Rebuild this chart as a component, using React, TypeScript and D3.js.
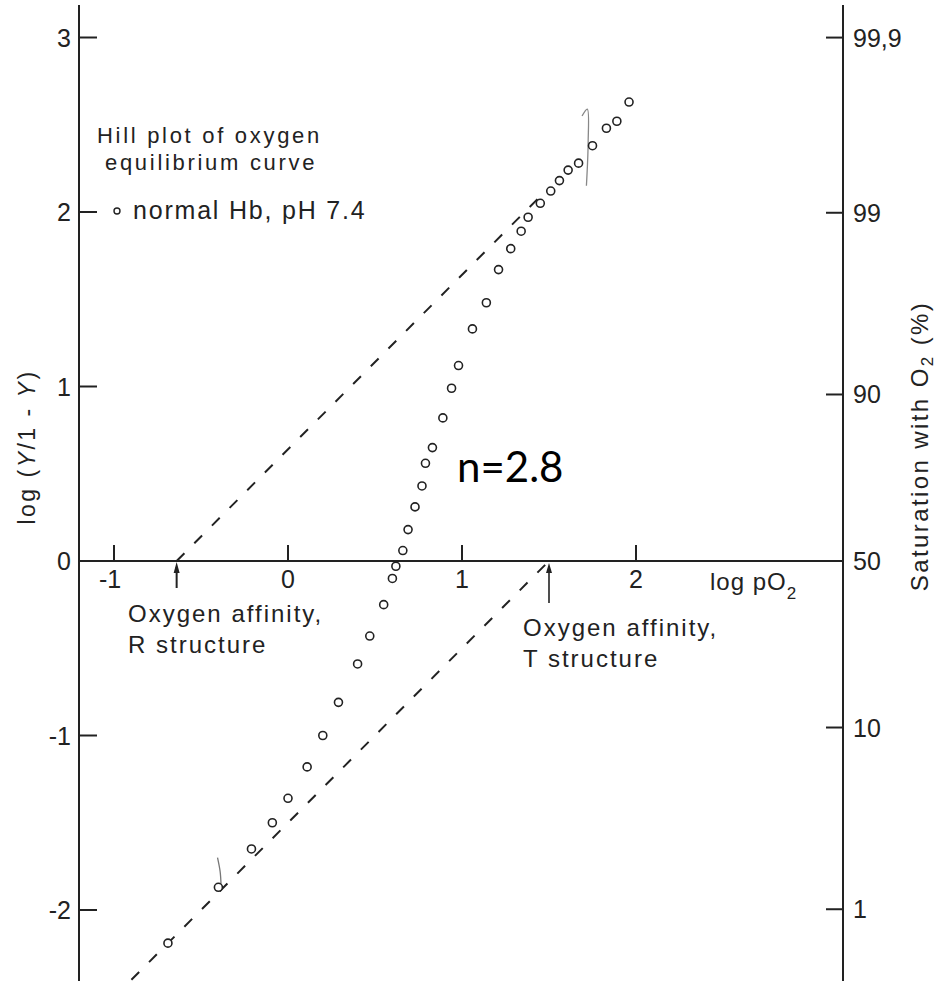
import React from "react";
import * as d3 from "d3";

const W = 942;
const H = 981;

// data points (log pO2 vs log(Y/1-Y))
const logPO2 = [
  -0.69, -0.4, -0.21, -0.09, 0.0, 0.11, 0.2, 0.29, 0.4, 0.47, 0.55, 0.6, 0.62,
  0.66, 0.69, 0.73, 0.77, 0.79, 0.83, 0.89, 0.94, 0.98, 1.06, 1.14, 1.21, 1.28,
  1.34, 1.38, 1.45, 1.51, 1.56, 1.61, 1.67, 1.75, 1.83, 1.89, 1.96,
];
const logY = [
  -2.19, -1.87, -1.65, -1.5, -1.36, -1.18, -1.0, -0.81, -0.59, -0.43, -0.25,
  -0.1, -0.03, 0.06, 0.18, 0.31, 0.43, 0.56, 0.65, 0.82, 0.99, 1.12, 1.33,
  1.48, 1.67, 1.79, 1.89, 1.97, 2.05, 2.12, 2.18, 2.24, 2.28, 2.38, 2.48, 2.52,
  2.63,
];

// asymptote lines (slope 1)
const rLine: [number, number][] = [[-0.64, 0], [1.45, 2.09]];
const tLine: [number, number][] = [[-0.9, -2.4], [1.5, 0]];

// hand drawn marks at the ends of the curve
const upperMark: [number, number][] = [[1.69, 2.55], [1.72, 2.59], [1.725, 2.4], [1.715, 2.15]];
const lowerMark: [number, number][] = [[-0.405, -1.7], [-0.39, -1.78], [-0.385, -1.85]];

const xTicks = [-1, 0, 1, 2];
const yTicks = [3, 2, 1, 0, -1, -2];
const satTicks = [1, 10, 50, 90, 99, 99.9];
const satLabels = ["1", "10", "50", "90", "99", "99,9"];

const rAffinity = -0.64;
const tAffinity = 1.5;

const font = "'Liberation Sans', Arial, sans-serif";
const ink = "#222";

export default function App() {
  const x = d3.scaleLinear().domain([0, 2]).range([288, 636]);
  const y = d3.scaleLinear().domain([0, 3]).range([561, 37.5]);
  const logit = (p: number) => Math.log10(p / (100 - p));

  const left = 79;
  const right = 843;
  const y0 = y(0);

  const line = d3.line<[number, number]>().x(d => x(d[0])).y(d => y(d[1]));
  const curve = d3
    .line<[number, number]>()
    .x(d => x(d[0]))
    .y(d => y(d[1]))
    .curve(d3.curveCatmullRom);

  const xr = x(rAffinity);
  const xt = x(tAffinity);

  return (
    <svg
      width={W}
      height={H}
      style={{ position: "absolute", left: 0, top: 0, background: "#fff" }}
      fontFamily={font}
    >
      <rect width={W} height={H} fill="#fff" />

      {/* axes */}
      <line x1={left} x2={left} y1={5} y2={H} stroke={ink} strokeWidth={2} />
      <line x1={right} x2={right} y1={5} y2={H} stroke={ink} strokeWidth={2} />
      <line x1={left} x2={right} y1={y0} y2={y0} stroke={ink} strokeWidth={2} />

      {yTicks.map(t => (
        <g key={"y" + t}>
          <line x1={left} x2={left + 18} y1={y(t)} y2={y(t)} stroke={ink} strokeWidth={2} />
          <text x={71} y={y(t)} dy="0.36em" textAnchor="end" fontSize={25} fill={ink}>
            {t < 0 ? "-" + Math.abs(t) : t}
          </text>
        </g>
      ))}

      {xTicks.map(t => (
        <g key={"x" + t}>
          <line x1={x(t)} x2={x(t)} y1={y0 - 16} y2={y0} stroke={ink} strokeWidth={2} />
          <text x={x(t) - (t < 0 ? 4 : 0)} y={588} textAnchor="middle" fontSize={25} fill={ink}>
            {t < 0 ? "-" + Math.abs(t) : t}
          </text>
        </g>
      ))}

      {satTicks.map((p, i) => (
        <g key={"s" + p}>
          <line x1={right - 17} x2={right} y1={y(logit(p))} y2={y(logit(p))} stroke={ink} strokeWidth={2} />
          <text x={853} y={y(logit(p))} dy="0.36em" fontSize={25} fill={ink}>
            {satLabels[i]}
          </text>
        </g>
      ))}

      {/* axis titles */}
      <text x={710} y={590} fontSize={24} fill={ink} letterSpacing={1}>
        log pO<tspan fontSize={17} dy={9}>2</tspan>
      </text>
      <text
        transform={`translate(35,447) rotate(-90)`}
        textAnchor="middle"
        fontSize={23}
        fill={ink}
        letterSpacing={2.5}
      >
        log (<tspan fontStyle="italic">Y</tspan>/1 - <tspan fontStyle="italic">Y</tspan>)
      </text>
      <text
        transform={`translate(928,446) rotate(-90)`}
        textAnchor="middle"
        fontSize={24}
        fill={ink}
        letterSpacing={2.4}
      >
        Saturation with O<tspan fontSize={17} dy={5}>2</tspan>
        <tspan dy={-5}> (%)</tspan>
      </text>

      {/* dashed asymptotes */}
      <path d={line(rLine) ?? ""} fill="none" stroke={ink} strokeWidth={2} strokeDasharray="11 14" />
      <path d={line(tLine) ?? ""} fill="none" stroke={ink} strokeWidth={2} strokeDasharray="11 14" />

      {/* hand marks */}
      <path d={curve(upperMark) ?? ""} fill="none" stroke="#888" strokeWidth={1.3} />
      <path d={curve(lowerMark) ?? ""} fill="none" stroke="#777" strokeWidth={1.3} />

      {/* data */}
      {logPO2.map((v, i) => (
        <circle key={i} cx={x(v)} cy={y(logY[i])} r={4} fill="#fff" stroke={ink} strokeWidth={1.6} />
      ))}

      {/* affinity arrows */}
      <line x1={xr} x2={xr} y1={y0 + 6} y2={y0 + 27} stroke={ink} strokeWidth={2} />
      <path d={`M${xr},${y0 + 1} L${xr - 3},${y0 + 12} L${xr + 3},${y0 + 12} Z`} fill={ink} />
      <line x1={xt} x2={xt} y1={y0 + 6} y2={y0 + 42} stroke={ink} strokeWidth={1.6} />
      <path d={`M${xt},${y0 + 2} L${xt - 3},${y0 + 12} L${xt + 3},${y0 + 12} Z`} fill={ink} />

      {/* annotations */}
      <g fontSize={24} fill={ink} letterSpacing={2}>
        <text x={128} y={622}>Oxygen affinity,</text>
        <text x={128} y={653}>R structure</text>
        <text x={523} y={636}>Oxygen affinity,</text>
        <text x={523} y={667}>T structure</text>
      </g>
      <g fill={ink}>
        <text x={97} y={143} fontSize={22} letterSpacing={2.7}>Hill plot of oxygen</text>
        <text x={105} y={170} fontSize={22} letterSpacing={2.7}>equilibrium curve</text>
        <circle cx={117} cy={y(2) - 1} r={3} fill="#fff" stroke={ink} strokeWidth={1.4} />
        <text x={133} y={219} fontSize={25} letterSpacing={1.8}>normal Hb, pH 7.4</text>
      </g>

      <text x={457} y={482} fontSize={42} fontFamily="Lato, 'Open Sans', sans-serif" fill="#000">
        n=2.8
      </text>
    </svg>
  );
}
